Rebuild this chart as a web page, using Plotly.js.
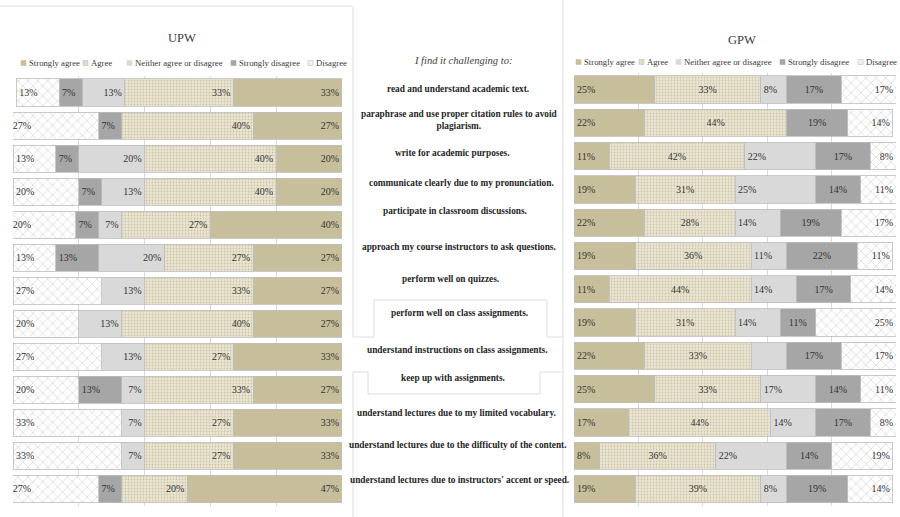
<!DOCTYPE html>
<html>
<head>
<meta charset="utf-8">
<script src="https://cdn.plot.ly/plotly-3.0.1.min.js"></script>
<style>
html,body{margin:0;padding:0;background:#fff;}
#chart{width:900px;height:517px;}
</style>
</head>
<body>
<div id="chart"></div>
<script>
// ---------- DATA ----------
const questions = [
  "read and understand academic text.",
  "paraphrase and use proper citation rules to avoid<br>plagiarism.",
  "write for academic purposes.",
  "communicate clearly due to my pronunciation.",
  "participate in classroom discussions.",
  "approach my course instructors to ask questions.",
  "perform well on quizzes.",
  "perform well on class assignments.",
  "understand instructions on class assignments.",
  "keep up with assignments.",
  "understand lectures due to my limited vocabulary.",
  "understand lectures due to the difficulty of the content.",
  "understand lectures due to instructors' accent or speed."
];
const seriesNames = ["Strongly agree", "Agree", "Neither agree or disagree", "Strongly disagree", "Disagree"];
const upwTitle = "UPW";
const gpwTitle = "GPW";
const introText = "I find it challenging to:";

const upwStronglyAgree    = [33,27,20,20,40,27,27,27,33,27,33,33,47];
const upwAgree            = [33,40,40,40,27,27,33,40,27,33,27,27,20];
const upwNeither          = [13, 0,20,13, 7,20,13,13,13, 7, 7, 7, 0];
const upwStronglyDisagree = [ 7, 7, 7, 7, 7,13, 0, 0, 0,13, 0, 0, 7];
const upwDisagree         = [13,27,13,20,20,13,27,20,27,20,33,33,27];

const gpwStronglyAgree    = [25,22,11,19,22,19,11,19,22,25,17, 8,19];
const gpwAgree            = [33,44,42,31,28,36,44,31,33,33,44,36,39];
const gpwNeither          = [ 8, 0,22,25,14,11,14,14,11,17,14,22, 8];
const gpwStronglyDisagree = [17,19,17,14,19,22,17,11,17,14,17,14,19];
const gpwDisagree         = [17,14, 8,11,17,11,14,25,17,11, 8,19,14];
// data labels not shown in the original: [series index, row index]
const gpwUnlabelled = [[2, 8]];

// ---------- STYLE ----------
const W = 900, H = 517;
const px = x => x / W;
const py = y => 1 - y / H;
const serif = "Liberation Serif, Times New Roman, serif";
const labelColor = "#333333";
const fills = ["#c7bf9b", "#ebe6d5", "#d9d9d9", "#a6a6a6", "#ffffff"];
const patterns = [
  null,
  {shape: ".", fgcolor: "#cdc5a6", bgcolor: "#ebe6d5", size: 3, solidity: 0.3},
  null,
  null,
  {shape: "x", fgcolor: "#c8c8c8", bgcolor: "#ffffff", size: 7, solidity: 0.15}
];
const upwAnchors = ["start", "start", "start", "end", "end"];
const gpwAnchors = ["start", "middle", "start", "middle", "end"];

function labels(vals, hidden, si) {
  return vals.map((v, i) => {
    if (v <= 0) return "";
    if (hidden && hidden.some(h => h[0] === si && h[1] === i)) return "";
    return v + "%";
  });
}

function makeTraces(series, xa, ya, anchors, hidden) {
  return series.map((vals, si) => {
    const marker = {color: fills[si], line: {color: "#bdbdbd", width: 0.8}};
    if (patterns[si]) marker.pattern = patterns[si];
    const tf = {family: serif, size: 10, color: labelColor};
    return {
      type: "bar", orientation: "h",
      name: seriesNames[si],
      x: vals, y: questions,
      xaxis: xa, yaxis: ya,
      marker: marker,
      text: labels(vals, hidden, si),
      textposition: "inside",
      insidetextanchor: anchors[si],
      textangle: 0,
      textfont: tf,
      insidetextfont: tf,
      hoverinfo: "skip",
      showlegend: false
    };
  });
}

const upwSeries = [upwStronglyAgree, upwAgree, upwNeither, upwStronglyDisagree, upwDisagree];
const gpwSeries = [gpwStronglyAgree, gpwAgree, gpwNeither, gpwStronglyDisagree, gpwDisagree];

const data = [
  ...makeTraces(upwSeries, "x", "y", upwAnchors, null),
  ...makeTraces(gpwSeries, "x2", "y2", gpwAnchors, gpwUnlabelled)
];

const xCommon = {range: [0, 100], dtick: 20, tick0: 0, showgrid: true, gridcolor: "#d9d9d9", gridwidth: 1,
  zeroline: false, showticklabels: false, ticks: "", showline: false, fixedrange: true};
const yCommon = {autorange: "reversed", showticklabels: false, ticks: "", showgrid: false, zeroline: false,
  showline: false, type: "category", fixedrange: true};

// annotations
const annotations = [];
function note(text, x, y, size, color, extra) {
  annotations.push(Object.assign({text: text, x: px(x), y: py(y), xref: "paper", yref: "paper", showarrow: false,
    xanchor: "center", yanchor: "middle", align: "center",
    font: {family: serif, size: size, color: color}}, extra || {}));
}
note(upwTitle, 182, 38, 12.5, "#404040");
note(gpwTitle, 742, 40, 12.5, "#404040");
note("<i>" + introText + "</i>", 463, 60, 10.5, "#404040");

const qX = [458,459,452,461,455,459,451,460,457,453,456,458,459];
const qY = [89,119.5,153,183,211,247,279,313,350,378,413,445,480];
questions.forEach((q, i) => note("<b>" + q + "</b>", qX[i], qY[i], 9.3, "#262626"));

// legends (square swatch + text)
const shapes = [];
const upwLegX = [21, 83, 127, 231, 308];
const gpwLegX = [576, 639, 676, 780, 858];
const legendSw = ["#c7bf9b", "#e3ddc6", "#d9d9d9", "#a6a6a6", "#f2f2f2"];
function addLegend(xs, yc) {
  xs.forEach((x, i) => {
    shapes.push({type: "rect", xref: "paper", yref: "paper", x0: px(x), x1: px(x + 5), y0: py(yc + 2.5), y1: py(yc - 2.5),
      fillcolor: legendSw[i], line: {color: i === 4 || i === 1 ? "#bfbfbf" : legendSw[i], width: 0.6}});
    note(seriesNames[i], x + 6, yc, 8.7, "#3a3a3a", {xanchor: "left", align: "left"});
  });
}
addLegend(upwLegX, 63);
addLegend(gpwLegX, 62);

// panel borders
const bc = "#dcdcdc";
function seg(x0, y0, x1, y1) {
  shapes.push({type: "line", xref: "paper", yref: "paper", x0: px(x0), y0: py(y0), x1: px(x1), y1: py(y1),
    line: {color: bc, width: 1}});
}
seg(0, 6, 352, 6);
seg(353, 6, 353, 337);
seg(353, 337, 374, 337); seg(374, 337, 374, 300); seg(374, 300, 547, 300); seg(547, 300, 547, 337); seg(547, 337, 562, 337);
seg(353, 372, 368, 372); seg(368, 372, 368, 394); seg(368, 394, 540, 394); seg(540, 394, 540, 372); seg(540, 372, 562, 372);
seg(353, 372, 353, 517);
seg(563, 0, 563, 517);

const layout = {
  width: W, height: H,
  margin: {l: 0, r: 0, t: 0, b: 0},
  paper_bgcolor: "#ffffff", plot_bgcolor: "#ffffff",
  barmode: "stack", bargap: 0.18,
  showlegend: false,
  xaxis: Object.assign({}, xCommon, {domain: [px(13), px(342)], range: [100, 0], anchor: "y"}),
  yaxis: Object.assign({}, yCommon, {domain: [1 - 505.5 / H, 1 - 76 / H], anchor: "x"}),
  xaxis2: Object.assign({}, xCommon, {domain: [px(574), px(896)], anchor: "y2"}),
  yaxis2: Object.assign({}, yCommon, {domain: [1 - 505.6 / H, 1 - 72.9 / H], anchor: "x2"}),
  annotations: annotations,
  shapes: shapes,
  font: {family: serif}
};

Plotly.newPlot("chart", data, layout, {displayModeBar: false, staticPlot: true});
</script>
</body>
</html>
